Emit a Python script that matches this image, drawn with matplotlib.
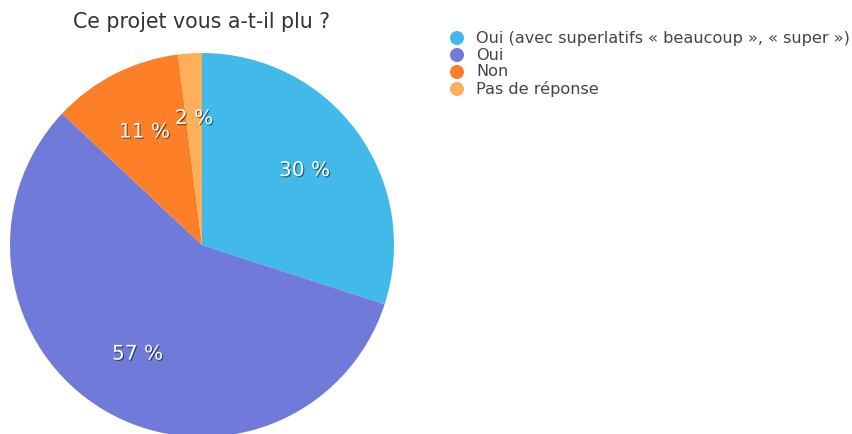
import matplotlib.pyplot as plt
import matplotlib.patheffects as pe
from matplotlib.patches import Circle

labels = ["Oui (avec superlatifs « beaucoup », « super »)", "Oui", "Non", "Pas de réponse"]
values = [30, 57, 11, 2]
colors = ["#41b9e9", "#6f7ad9", "#fd7f28", "#fdaf5a"]
title = "Ce projet vous a-t-il plu ?"

plt.rcParams['font.family'] = ['DejaVu Sans']

W, H = 853, 434
fig = plt.figure(figsize=(W / 100, H / 100), dpi=100)

# pie axes: centre (202, 245) px from top-left, radius 192 px
cx, cy, r = 202, 245, 192
ax = fig.add_axes([(cx - r) / W, (H - cy - r) / H, 2 * r / W, 2 * r / H])
wedges, texts, autotexts = ax.pie(values, colors=colors, startangle=90, counterclock=False,
                                  autopct=lambda p: "%d %%" % round(p), pctdistance=0.66,
                                  radius=1, wedgeprops=dict(linewidth=0))
shadow = [pe.SimplePatchShadow(offset=(0.8, -0.8), shadow_rgbFace='k', alpha=0.5), pe.Normal()]
for t in autotexts:
    t.set_color('white')
    t.set_fontsize(14.5)
    t.set_path_effects(shadow)
ax.set_xlim(-1, 1)
ax.set_ylim(-1, 1)
ax.set_aspect('equal')
ax.axis('off')

fig.text(cx / W, 1 - 22 / H, title, ha='center', va='center', fontsize=14.8, color='#333333')

# legend
for i, (lab, col) in enumerate(zip(labels, colors)):
    y = 38 + i * 17
    fig.patches.append(Circle((457, H - y), 7, transform=None, facecolor=col,
                              edgecolor='none', figure=fig))
    fig.text(476 / W, 1 - y / H, lab, ha='left', va='center', fontsize=11.6, color='#444444')

fig.savefig("out.png", dpi=100)
